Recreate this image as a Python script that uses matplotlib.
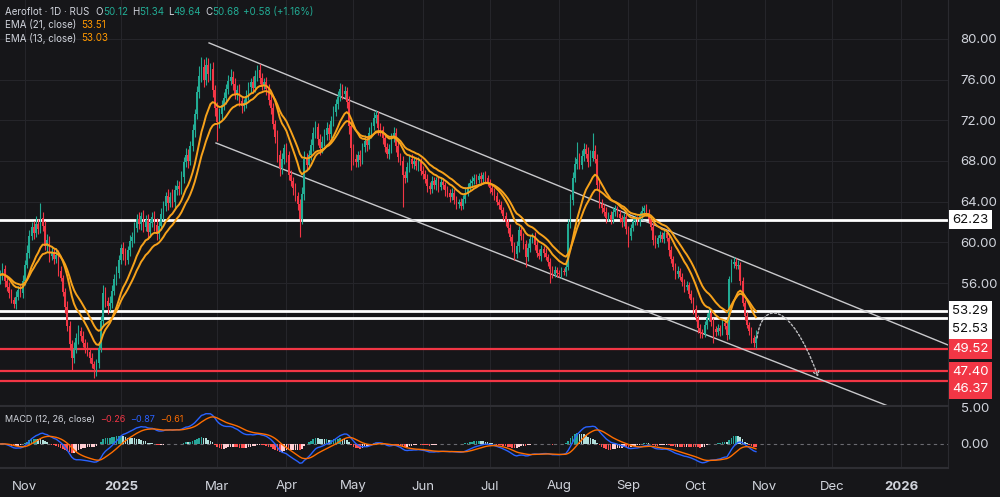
import numpy as np
import pandas as pd
import matplotlib
matplotlib.use("Agg")
import matplotlib.pyplot as plt
from matplotlib.path import Path
from matplotlib.patches import FancyArrowPatch
from matplotlib.transforms import blended_transform_factory

plt.rcParams['font.family'] = ['Inter', 'DejaVu Sans']

# ── 1. Data (daily bars, Oct 2024 – Oct 28 2025) ─────────────────────────────

first_open = 56.3
closes = [
    56.8, 57.4, 56.2, 55.6, 55.0, 54.3, 53.9, 54.6, 55.3, 55.0,
    56.2, 57.8, 59.0, 60.6, 61.5, 60.9, 61.8, 61.3, 62.4, 61.6,
    59.6, 60.2, 58.7, 59.1, 58.4, 58.8, 57.2, 56.5, 55.1, 53.6,
    51.8, 50.0, 48.6, 49.5, 50.6, 51.3, 50.8, 50.1, 49.6, 49.2,
    48.6, 48.0, 47.5, 48.1, 49.6, 52.3, 55.0, 54.2, 53.7, 54.0,
    55.2, 56.4, 57.0, 58.3, 59.4, 58.9, 58.3, 59.2, 60.1, 60.5,
    61.4, 62.3, 61.8, 62.6, 61.5, 62.2, 61.0, 61.9, 62.5, 61.7,
    60.8, 61.6, 62.8, 63.6, 64.6, 63.9, 64.5, 64.0, 65.1, 65.5,
    65.2, 66.4, 67.9, 68.6, 68.0, 69.5, 71.0, 72.6, 74.8, 76.4,
    77.2, 76.0, 77.4, 76.6, 77.0, 75.0, 73.2, 71.8, 72.6, 73.5,
    74.2, 75.1, 75.9, 76.3, 75.6, 74.6, 75.0, 73.9, 73.4, 73.7,
    74.4, 75.3, 75.8, 75.2, 76.4, 76.9, 76.2, 75.5, 75.8, 75.1,
    74.0, 73.2, 71.6, 70.4, 68.6, 67.3, 68.2, 69.3, 68.6, 66.6,
    66.0, 65.3, 64.6, 63.8, 62.3, 64.8, 68.2, 67.6, 68.6, 69.6,
    70.8, 71.3, 70.2, 69.3, 69.9, 70.6, 71.2, 70.7, 71.9, 72.8,
    73.6, 74.3, 75.1, 74.6, 74.9, 73.8, 71.4, 69.3, 68.2, 67.9,
    68.6, 68.1, 69.4, 70.0, 69.6, 70.8, 71.4, 72.2, 72.5, 71.2,
    71.0, 70.3, 69.4, 68.7, 69.2, 70.4, 70.8, 69.5, 68.4, 68.0,
    66.6, 66.3, 67.4, 68.2, 67.7, 68.0, 67.5, 67.9, 67.0, 66.7,
    66.2, 65.5, 65.2, 66.0, 65.6, 66.1, 65.4, 65.9, 65.6, 65.1,
    64.9, 64.5, 64.9, 64.2, 63.8, 64.0, 63.6, 64.3, 64.9, 65.4,
    65.8, 66.0, 66.3, 66.1, 66.5, 66.2, 66.6, 66.3, 65.8, 65.3,
    65.0, 64.6, 64.0, 63.7, 63.2, 62.6, 62.0, 61.4, 60.5, 59.6,
    58.9, 59.6, 61.2, 60.6, 59.8, 58.6, 59.4, 60.3, 60.6, 59.7,
    59.0, 58.7, 59.3, 59.0, 58.6, 58.1, 57.4, 56.9, 57.3, 57.0,
    56.9, 57.2, 57.1, 57.6, 61.8, 64.2, 66.3, 67.7, 68.2, 67.6,
    68.5, 69.2, 68.7, 67.9, 68.3, 69.0, 68.2, 65.6, 63.8, 63.4,
    63.0, 62.4, 62.7, 62.2, 63.0, 63.3, 62.8, 62.4, 62.0, 62.5,
    61.3, 60.6, 61.4, 62.1, 62.3, 62.0, 62.6, 63.1, 63.4, 62.9,
    62.3, 61.5, 60.2, 59.8, 60.4, 60.7, 60.3, 60.9, 60.4, 59.2,
    58.4, 57.6, 56.9, 57.2, 56.6, 56.1, 55.6, 55.8, 54.9, 54.3,
    53.4, 52.6, 51.6, 51.2, 51.0, 51.9, 52.6, 53.1, 52.2, 51.5,
    51.2, 51.6, 51.3, 52.1, 51.8, 50.9, 56.4, 57.9, 58.1, 57.7,
    57.8, 56.2, 54.0, 52.8, 51.9, 51.3, 50.6, 50.12, 50.68,
]
# wick lengths above / below the candle body
upper_wick = [
    .5, .6, .4, .3, .5, .4, .3, .6, .4, .5,
    .6, .5, .7, .6, .5, .6, .8, .5, 1.5, .6,
    .5, .6, .4, .5, .3, .6, .4, .5, .3, .4,
    .6, .5, .4, .7, .5, .6, .4, .5, .4, .6,
    .4, .5, .3, .4, .6, .5, .8, .6, .4, .7,
    .6, .5, .7, .5, .4, .6, .5, .4, .6, .5,
    .6, .5, .7, .4, .6, .5, .6, .4, .5, .6,
    .7, .5, .6, .5, .4, .6, .5, .7, .5, .6,
    .5, .6, .5, .7, .6, .5, .6, .5, .6, .9,
    1.0, .8, .8, .7, .6, .7, .5, .6, .6, .5,
    .6, .5, .6, .7, .5, .6, .5, .6, .5, .4,
    .6, .5, .4, .6, .5, .5, .6, .5, .4, .5,
    .5, .6, .5, .4, .6, .5, .6, .4, .5, .4,
    .5, .4, .5, .4, .5, .6, .8, .6, .5, .6,
    .5, .6, .4, .5, .6, .5, .6, .4, .5, .6,
    .5, .6, .6, .5, .5, .4, .6, .5, .4, .5,
    .4, .5, .4, .6, .5, .5, .4, .6, .5, .4,
    .5, .4, .5, .4, .5, .4, .5, .4, .5, .4,
    .5, .4, .5, .4, .5, .4, .4, .5, .4, .5,
    .4, .5, .4, .5, .4, .3, .4, .5, .4, .3,
    .4, .3, .4, .3, .4, .3, .4, .4, .5, .4,
    .4, .5, .4, .4, .3, .4, .3, .4, .3, .4,
    .4, .3, .4, .3, .4, .3, .4, .3, .4, .3,
    .4, .5, .4, .5, .3, .4, .5, .4, .3, .4,
    .4, .3, .4, .3, .4, .3, .4, .3, .4, .3,
    .3, .4, .3, .4, .5, .6, .6, .7, 1.7, .6,
    .6, .6, .5, .7, .8, 1.8, .6, .5, .4, .5,
    .4, .5, .3, .4, .5, .4, .3, .4, .3, .4,
    .4, .3, .4, .3, .4, .3, .4, .5, .3, .4,
    .4, .3, .4, .5, .3, .4, .3, .4, .3, .4,
    .4, .3, .4, .5, .3, .4, .3, .4, .3, .4,
    .3, .4, .3, .4, .3, .4, .5, .4, .3, .4,
    .3, .4, .3, .4, .3, .4, .3, .5, .5, .4,
    .5, .3, .4, .3, .4, .3, .4, .3, .66,
]
lower_wick = [
    .4, .5, .6, .4, .5, .3, .4, .5, .3, .4,
    .5, .4, .3, .5, .4, .6, .4, .5, .4, .5,
    .4, .5, .6, .4, .5, .4, .5, .3, .4, .5,
    .5, .6, 1.2, .5, .4, .6, .5, .4, .5, .4,
    .5, .4, .8, .6, .5, .4, .5, .6, .7, .4,
    .5, .4, .6, .5, .4, .6, .5, .4, .5, .6,
    .6, .4, .5, .6, .5, .4, .7, .5, .4, .6,
    .6, .5, .4, .6, .5, .7, .4, .5, .6, .4,
    .5, .4, .6, .5, .7, .4, .5, .6, .5, .6,
    .6, .7, .5, .8, .6, .7, .8, 1.8, .6, .5,
    .5, .6, .5, .4, .6, .5, .6, .5, .7, .5,
    .5, .4, .6, .5, .4, .5, .6, .5, .4, .6,
    .5, .6, .5, .6, .7, .8, .6, .5, .7, .5,
    .5, .6, .5, .6, 1.8, .5, .6, .5, .4, .5,
    .6, .5, .6, .7, .5, .4, .5, .6, .4, .5,
    .4, .5, .4, .5, .4, .6, .7, 2.2, .6, .5,
    .5, .6, .4, .5, .6, .4, .5, .4, .5, .6,
    .5, .6, .5, .4, .5, .4, .5, .6, .5, .4,
    3.1, .5, .4, .5, .4, .5, .4, .5, .4, .5,
    .4, .5, .4, .3, .4, .5, .4, .3, .4, .5,
    .4, .5, .3, .4, .5, .4, .4, .3, .4, .3,
    .3, .4, .3, .4, .3, .4, .3, .4, .3, .4,
    .3, .4, .3, .4, .3, .4, .4, .5, .4, .5,
    .6, .4, .5, .4, .5, 1.0, .4, .3, .4, .5,
    .4, .3, .5, .4, .3, .4, 1.4, .4, .3, .4,
    .3, .4, .3, .4, .3, .4, .5, .4, .5, .4,
    .4, .5, .4, .5, .4, .3, .4, .5, .4, .5,
    .4, .5, .3, .4, .3, .4, .3, .4, .5, .4,
    .5, 1.1, .4, .3, .4, .3, .4, .3, .4, .3,
    .4, .3, .5, .4, .3, .4, .3, .4, .3, .5,
    .4, .3, .5, .4, .3, .4, .5, .3, .4, .3,
    .4, .3, .5, .6, .4, .3, .4, .3, .4, 1.4,
    .4, .3, .5, .4, .3, .5, .4, .3, .4, .3,
    .3, .4, .3, .4, .3, .4, .5, .4, .48,
]

# horizontal levels and where their price tags sit on the axis
white_levels = [62.23, 53.29, 52.53]
red_levels = [49.52, 47.40, 46.37]
white_tag_y = [62.23, 53.25, 51.49]
red_tag_y = [49.52, 47.26, 45.59]

# descending channel (bar index, price)
chan_upper = ([93.4, 423.9], [79.61, 49.91])
chan_lower = ([96.5, 402.0], [69.77, 43.49])
# dotted projection: start, two control points, end
proj_k = [338.5, 340.8, 353.3, 365.8]
proj_p = [50.6, 54.34, 54.34, 46.8]

price_ticks = [56, 60, 64, 68, 72, 76, 80]
month_labels = [(2024, 11, "Nov"), (2025, 1, "2025"), (2025, 3, "Mar"), (2025, 4, "Apr"),
                (2025, 5, "May"), (2025, 6, "Jun"), (2025, 7, "Jul"), (2025, 8, "Aug"),
                (2025, 9, "Sep"), (2025, 10, "Oct"), (2025, 11, "Nov"), (2025, 12, "Dec"),
                (2026, 1, "2026")]

# ── 2. Derived series ────────────────────────────────────────────────────────

close = np.array(closes)
opn = np.concatenate([[first_open], close[:-1]])
high = np.maximum(opn, close) + np.array(upper_wick)
low = np.minimum(opn, close) - np.array(lower_wick)
k = np.arange(len(close))

s = pd.Series(close)
ema13 = s.ewm(span=13, adjust=False).mean()
ema21 = s.ewm(span=21, adjust=False).mean()
macd = s.ewm(span=12, adjust=False).mean() - s.ewm(span=26, adjust=False).mean()
signal = macd.ewm(span=9, adjust=False).mean()
hist = (macd - signal).values

# bar dates: weekdays until end of Feb 2025, then every day (weekend sessions)
bar_dates = list(pd.bdate_range("2024-10-17", "2025-02-28")) + \
    list(pd.date_range("2025-03-01", "2026-02-28"))

# ── 3. Figure ────────────────────────────────────────────────────────────────

BG = "#161619"
GRID = "#25252a"
TXT = "#d1d4dc"
UP, DOWN = "#22ab94", "#f23645"
EMA_C = "#f7a21b"

fig = plt.figure(figsize=(10, 4.97), dpi=100, facecolor=BG)
ax = fig.add_axes([0, 1 - 406 / 497, 0.948, 406 / 497], facecolor=BG)
axm = fig.add_axes([0, 1 - 468 / 497, 0.948, 61 / 497], facecolor=BG, sharex=ax)

ax.set_xlim(-0.1, 423.9)
ax.set_ylim(43.91, 83.83)
axm.set_ylim(-3.25, 5.0)

for a in (ax, axm):
    for sp in a.spines.values():
        sp.set_visible(False)
    a.spines["right"].set_visible(True)
    a.spines["right"].set_color("#2a2a2f")
    a.spines["bottom"].set_visible(True)
    a.spines["bottom"].set_color("#2e2e33")
    a.spines["bottom"].set_linewidth(1.5)

# month ticks
tick_pos, tick_lab = [], []
for yr, mo, lab in month_labels:
    idx = next(i for i, d in enumerate(bar_dates) if d.year == yr and d.month == mo)
    tick_pos.append(idx)
    tick_lab.append(lab)

ax.set_xticks(tick_pos)
ax.tick_params(axis="x", length=0, labelbottom=False)
axm.set_xticks(tick_pos)
axm.set_xticklabels(tick_lab)
axm.tick_params(axis="x", length=0, colors=TXT, labelsize=9.5, pad=9)
for t in axm.get_xticklabels():
    if t.get_text().isdigit():
        t.set_fontweight("bold")

ax.yaxis.tick_right()
ax.set_yticks(price_ticks)
ax.set_yticklabels([f"{v:.2f}" for v in price_ticks])
ax.tick_params(axis="y", length=0, colors=TXT, labelsize=9.5, pad=9)
axm.yaxis.tick_right()
axm.set_yticks([0, 5])
axm.set_yticklabels(["0.00", "5.00"])
axm.tick_params(axis="y", length=0, colors=TXT, labelsize=9.5, pad=9)

ax.grid(True, color=GRID, lw=0.8)
axm.grid(True, axis="x", color=GRID, lw=0.8)
ax.set_axisbelow(True)
axm.set_axisbelow(True)

# ── 4. Candles + EMAs ────────────────────────────────────────────────────────

up = close >= opn
colors = np.where(up, UP, DOWN)
ax.vlines(k, low, high, colors=colors, lw=0.8, zorder=3)
body_lo = np.minimum(opn, close)
body_h = np.maximum(np.abs(close - opn), 0.08)
ax.bar(k, body_h, bottom=body_lo, width=0.72, color=colors, lw=0, zorder=3)

ax.plot(k, ema21, color=EMA_C, lw=1.4, zorder=4)
ax.plot(k, ema13, color=EMA_C, lw=1.4, zorder=4)

# ── 5. Levels, channel, projection ───────────────────────────────────────────

for lv in white_levels:
    ax.axhline(lv, color="white", lw=2.0, zorder=2)
for lv in red_levels:
    ax.axhline(lv, color="#f23645", lw=1.6, zorder=2)

ax.plot(*chan_upper, color="#c9c9cc", lw=1.0, zorder=2)
ax.plot(*chan_lower, color="#c9c9cc", lw=1.0, zorder=2)

proj = Path(list(zip(proj_k, proj_p)), [Path.MOVETO, Path.CURVE4, Path.CURVE4, Path.CURVE4])
arrow = FancyArrowPatch(path=proj, arrowstyle="->,head_length=3,head_width=2",
                        color="#bdbdc0", lw=1.0, linestyle=(0, (1.5, 1.5)), zorder=5)
ax.add_patch(arrow)

tag_tr = blended_transform_factory(ax.transAxes, ax.transData)
for lv, ty in zip(white_levels, white_tag_y):
    ax.text(1.0045, ty, f"{lv:.2f}", transform=tag_tr, ha="left", va="center",
            color="#111111", fontsize=9.5, clip_on=False, zorder=10,
            bbox=dict(boxstyle="square,pad=0.28", fc="white", ec="none"))
for lv, ty in zip(red_levels, red_tag_y):
    ax.text(1.0045, ty, f"{lv:.2f}", transform=tag_tr, ha="left", va="center",
            color="white", fontsize=9.5, clip_on=False, zorder=10,
            bbox=dict(boxstyle="square,pad=0.28", fc="#f23645", ec="none"))

# ── 6. MACD pane ─────────────────────────────────────────────────────────────

prev = np.concatenate([[hist[0]], hist[:-1]])
hcol = np.where(hist >= 0,
                np.where(hist > prev, "#26a69a", "#b2dfdb"),
                np.where(hist > prev, "#ffcdd2", "#ff5252"))
axm.bar(k, hist, width=0.72, color=hcol, lw=0, zorder=2)
axm.plot(k, macd, color="#2962ff", lw=1.0, zorder=3)
axm.plot(k, signal, color="#ff6d00", lw=1.0, zorder=3)
axm.axhline(0, color="#6a6a70", lw=0.8, ls=(0, (3, 3)), zorder=1)

# ── 7. Header texts ──────────────────────────────────────────────────────────

renderer = fig.canvas.get_renderer()


def draw_parts(x, y, parts, size):
    for txt, col, gap in parts:
        t = fig.text(x / 1000, 1 - y / 497, txt, color=col, fontsize=size,
                     ha="left", va="center")
        x = t.get_window_extent(renderer).x1 + gap


GREEN_T = "#22ab94"
draw_parts(5, 12, [("Aeroflot · 1D · RUS", TXT, 6), ("O", TXT, 0), ("50.12", GREEN_T, 4),
                   ("H", TXT, 0), ("51.34", GREEN_T, 4), ("L", TXT, 0),
                   ("49.64", GREEN_T, 4), ("C", TXT, 0), ("50.68", GREEN_T, 4),
                   ("+0.58 (+1.16%)", GREEN_T, 0)], 7)
draw_parts(5, 25, [("EMA (21, close)", TXT, 5), ("53.51", "#ff9800", 0)], 7)
draw_parts(5, 38, [("EMA (13, close)", TXT, 5), ("53.03", "#ff9800", 0)], 7)
draw_parts(5, 420, [("MACD (12, 26, close)", TXT, 5), ("\u22120.26", "#f23645", 5),
                    ("\u22120.87", "#2962ff", 5), ("\u22120.61", "#ff6d00", 0)], 6.5)

fig.savefig("out.png", dpi=100, facecolor=BG)
